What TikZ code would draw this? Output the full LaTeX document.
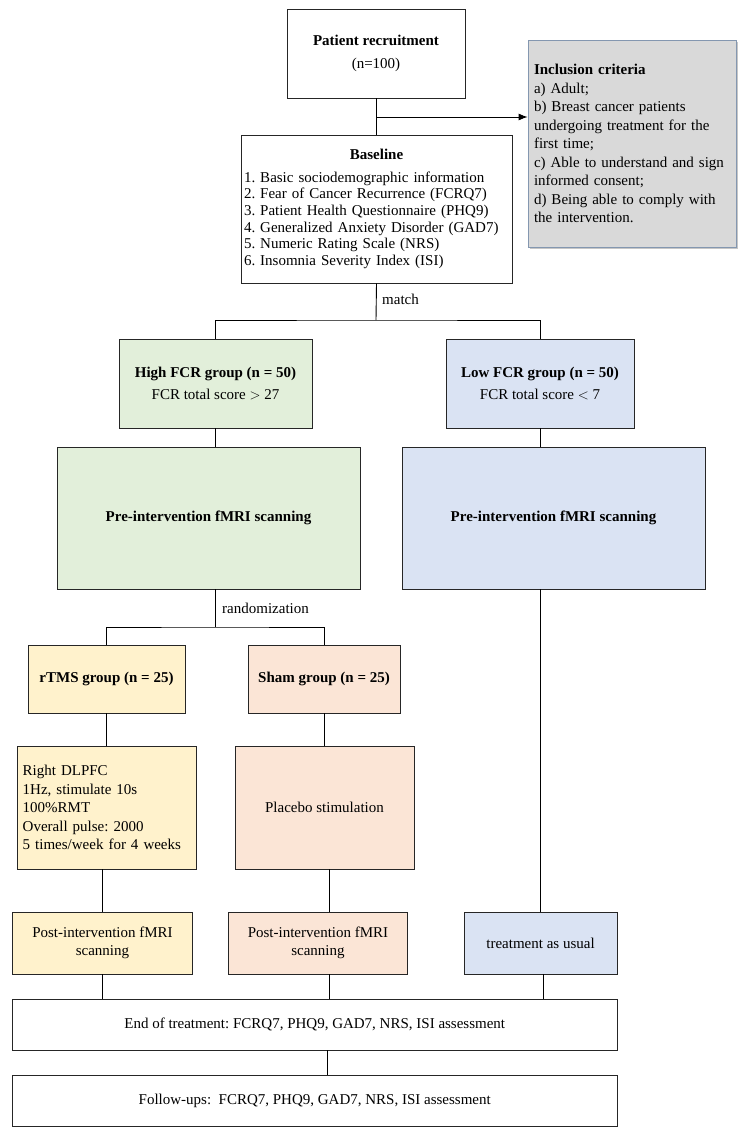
\documentclass[tikz,border=0pt]{standalone}
\usepackage{fontspec}
\setmainfont{Liberation Serif}
\usetikzlibrary{shadows,arrows.meta}
\definecolor{highgreen}{HTML}{E2EFDA}
\definecolor{lowblue}{HTML}{DAE3F3}
\definecolor{rtmsyellow}{HTML}{FFF2CC}
\definecolor{shampink}{HTML}{FBE5D6}
\definecolor{inclgray}{HTML}{D9D9D9}
\definecolor{inclborder}{HTML}{8497B0}
\frenchspacing

\begin{document}
\begin{tikzpicture}[x=1pt, y=1pt,
		box/.style={draw=black!85, line width=0.8pt, align=center, inner sep=3pt,
			font=\fontsize{15}{17.5}\selectfont},
		conn/.style={line width=0.9pt},
		lbl/.style={inner sep=2pt, font=\fontsize{15}{17}\selectfont}]
			\useasboundingbox (0,0) rectangle (749,-1133);
			% top part
			\node[box, minimum width=178pt, minimum height=89pt] (recruit) at (376,-53.5) {\textbf{Patient recruitment}\\[5pt](n=100)};
			\node[box, fill=inclgray, draw=inclborder, drop shadow={shadow xshift=2pt, shadow yshift=-2pt, opacity=0.45},
				text width=196pt, inner xsep=6pt, minimum height=207pt, align=left,
				font=\fontsize{15}{18.5}\selectfont] (incl) at (632,-143.5)
				{\textbf{Inclusion criteria}\\a) Adult;\\b) Breast cancer patients\\undergoing treatment for the\\first time;\\c) Able to understand and sign\\informed consent;\\d) Being able to comply with\\the intervention.};
			\node[box, text width=265pt, minimum height=148pt, align=left,
				font=\fontsize{15}{16.7}\selectfont] (base) at (376.5,-209)
				{\makebox[265pt]{\textbf{Baseline}}\\[6pt]
				1. Basic sociodemographic information\\
				2. Fear of Cancer Recurrence (FCRQ7)\\
				3. Patient Health Questionnaire (PHQ9)\\
				4. Generalized Anxiety Disorder (GAD7)\\
				5. Numeric Rating Scale (NRS)\\
				6. Insomnia Severity Index (ISI)};
			% groups
			\node[box, fill=highgreen, minimum width=193pt, minimum height=89pt] (high) at (215.5,-383.5) {\textbf{High FCR group (n = 50)}\\[4pt]FCR total score $>$ 27};
			\node[box, fill=lowblue, minimum width=188pt, minimum height=89pt] (low) at (540,-383.5) {\textbf{Low FCR group (n = 50)}\\[4pt]FCR total score $<$ 7};
			\node[box, fill=highgreen, minimum width=303pt, minimum height=142pt] (prehigh) at (208.5,-518) {\textbf{Pre-intervention fMRI scanning}};
			\node[box, fill=lowblue, minimum width=303pt, minimum height=142pt] (prelow) at (553.5,-518) {\textbf{Pre-intervention fMRI scanning}};
			\node[box, fill=rtmsyellow, minimum width=157pt, minimum height=68pt] (rtms) at (106.5,-679) {\textbf{rTMS group (n = 25)}};
			\node[box, fill=shampink, minimum width=152pt, minimum height=68pt] (sham) at (324,-679) {\textbf{Sham group (n = 25)}};
			\node[box, fill=rtmsyellow, text width=167.6pt, inner xsep=5.7pt, minimum height=123pt, align=left,
				font=\fontsize{15}{18.6}\selectfont] (dlpfc) at (106.5,-807.5)
				{Right DLPFC\\1Hz, stimulate 10s\\100\%RMT\\Overall pulse: 2000\\5 times/week for 4 weeks};
			\node[box, fill=shampink, minimum width=179pt, minimum height=123pt] (placebo) at (324.5,-807.5) {Placebo stimulation};
			% post and assessment
			\node[box, fill=rtmsyellow, minimum width=180pt, minimum height=62pt] (posta) at (102.5,-943) {Post-intervention fMRI\\scanning};
			\node[box, fill=shampink, minimum width=179pt, minimum height=62pt] (postb) at (318,-943) {Post-intervention fMRI\\scanning};
			\node[box, fill=lowblue, minimum width=153pt, minimum height=62pt] (tau) at (540.5,-943) {treatment as usual};
			\node[box, minimum width=604.5pt, minimum height=51pt] (endt) at (314.75,-1024.5) {End of treatment: FCRQ7, PHQ9, GAD7, NRS, ISI assessment};
			\node[box, minimum width=604.5pt, minimum height=51pt] (follow) at (314.75,-1100.5) {Follow-ups:\ \ FCRQ7, PHQ9, GAD7, NRS, ISI assessment};
			% connectors
			\coordinate (branch) at (376,-117);
			\coordinate (msplit) at (376,-320);
			\coordinate (rsplit) at (215,-627);
			\draw[conn] (recruit.south) -- (recruit.south |- base.north);
			\draw[conn, -{Latex[length=9pt, width=7pt]}] (branch) -- (branch -| incl.west);
			\draw[conn] (base.south) -- (msplit);
			\draw[conn] (high.north) |- (msplit) -| (low.north);
			\node[lbl, anchor=west] (match) at (380,-299) {match};
			\draw[conn] (high.south) -- (high.south |- prehigh.north);
			\draw[conn] (low.south) -- (low.south |- prelow.north);
			\draw[conn] (rsplit |- prehigh.south) -- (rsplit);
			\draw[conn] (rtms.north) |- (rsplit) -| (sham.north);
			\node[lbl, anchor=west] (rand) at (220,-608) {randomization};
			\draw[conn] (tau.north |- prelow.south) -- (tau.north);
			\draw[conn] (rtms.south) -- (rtms.south |- dlpfc.north);
			\draw[conn] (sham.south) -- (sham.south |- placebo.north);
			\draw[conn] (posta.north |- dlpfc.south) -- (posta.north);
			\draw[conn] ([xshift=4.5pt]placebo.south) -- ([xshift=4.5pt]placebo.south |- postb.north);
			\draw[conn] (posta.south) -- (posta.south |- endt.north);
			\draw[conn] ([xshift=11pt]postb.south) -- ([xshift=11pt]postb.south |- endt.north);
			\draw[conn] ([xshift=2.5pt]tau.south) -- ([xshift=2.5pt]tau.south |- endt.north);
			\draw[conn] ([xshift=13pt]endt.south) -- ([xshift=13pt]endt.south |- follow.north);
		\end{tikzpicture}
\end{document}
